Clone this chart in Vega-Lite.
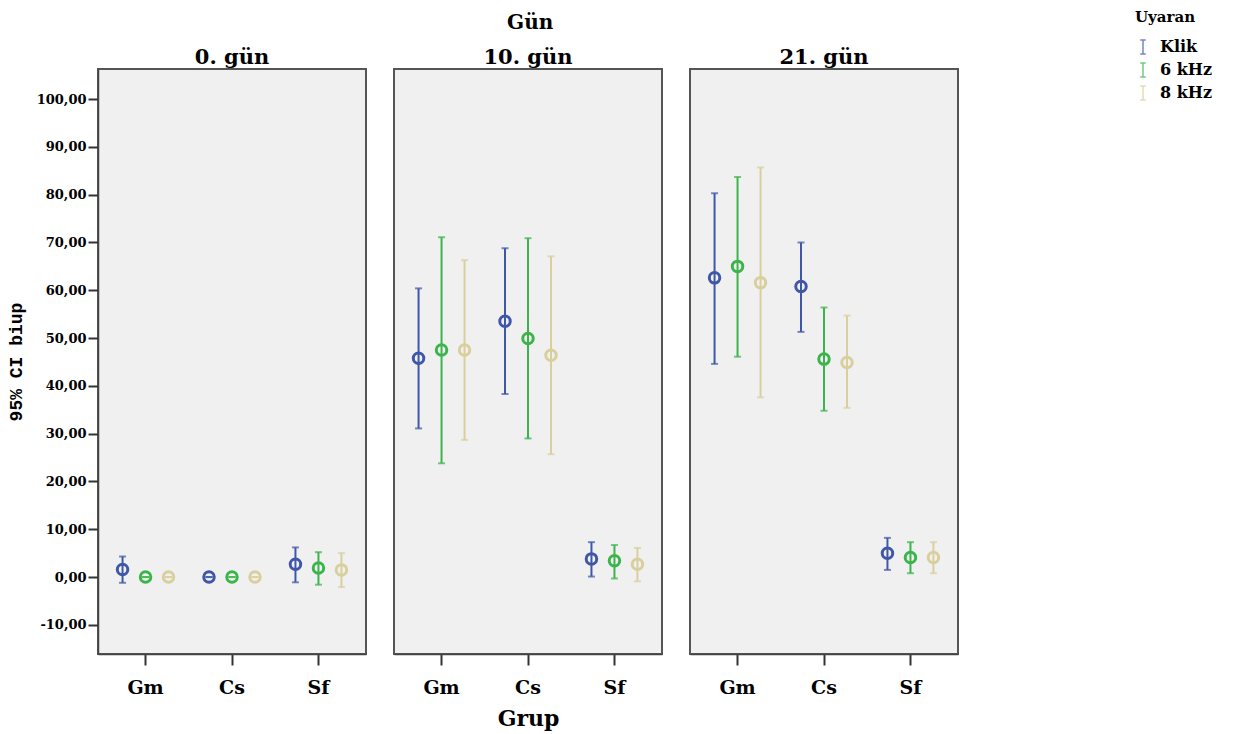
{
  "$schema": "https://vega.github.io/schema/vega-lite/v6.json",
  "background": "white",
  "padding": {"left": 6, "top": 10, "right": 5, "bottom": 5},
  "title": {
    "text": "Gün",
    "anchor": "middle",
    "fontSize": 20,
    "dx": -79,
    "offset": -23
  },
  "data": {
    "values": [
      {"gun": "0. gün", "grup": "Gm", "uyaran": "Klik", "mean": 1.6, "lo": -1.2, "hi": 4.3},
      {"gun": "0. gün", "grup": "Gm", "uyaran": "6 kHz", "mean": 0, "lo": 0, "hi": 0},
      {"gun": "0. gün", "grup": "Gm", "uyaran": "8 kHz", "mean": 0, "lo": 0, "hi": 0},
      {"gun": "0. gün", "grup": "Cs", "uyaran": "Klik", "mean": 0, "lo": 0, "hi": 0},
      {"gun": "0. gün", "grup": "Cs", "uyaran": "6 kHz", "mean": 0, "lo": 0, "hi": 0},
      {"gun": "0. gün", "grup": "Cs", "uyaran": "8 kHz", "mean": 0, "lo": 0, "hi": 0},
      {"gun": "0. gün", "grup": "Sf", "uyaran": "Klik", "mean": 2.7, "lo": -1.1, "hi": 6.2},
      {"gun": "0. gün", "grup": "Sf", "uyaran": "6 kHz", "mean": 1.9, "lo": -1.6, "hi": 5.2},
      {"gun": "0. gün", "grup": "Sf", "uyaran": "8 kHz", "mean": 1.5, "lo": -2.1, "hi": 5.0},
      {"gun": "10. gün", "grup": "Gm", "uyaran": "Klik", "mean": 45.8, "lo": 31.1, "hi": 60.4},
      {"gun": "10. gün", "grup": "Gm", "uyaran": "6 kHz", "mean": 47.5, "lo": 23.8, "hi": 71.1},
      {"gun": "10. gün", "grup": "Gm", "uyaran": "8 kHz", "mean": 47.5, "lo": 28.7, "hi": 66.3},
      {"gun": "10. gün", "grup": "Cs", "uyaran": "Klik", "mean": 53.5, "lo": 38.3, "hi": 68.8},
      {"gun": "10. gün", "grup": "Cs", "uyaran": "6 kHz", "mean": 49.9, "lo": 29.0, "hi": 70.9},
      {"gun": "10. gün", "grup": "Cs", "uyaran": "8 kHz", "mean": 46.4, "lo": 25.7, "hi": 67.1},
      {"gun": "10. gün", "grup": "Sf", "uyaran": "Klik", "mean": 3.8, "lo": 0.1, "hi": 7.3},
      {"gun": "10. gün", "grup": "Sf", "uyaran": "6 kHz", "mean": 3.4, "lo": -0.3, "hi": 6.7},
      {"gun": "10. gün", "grup": "Sf", "uyaran": "8 kHz", "mean": 2.7, "lo": -0.9, "hi": 6.1},
      {"gun": "21. gün", "grup": "Gm", "uyaran": "Klik", "mean": 62.6, "lo": 44.6, "hi": 80.3},
      {"gun": "21. gün", "grup": "Gm", "uyaran": "6 kHz", "mean": 65.0, "lo": 46.1, "hi": 83.7},
      {"gun": "21. gün", "grup": "Gm", "uyaran": "8 kHz", "mean": 61.6, "lo": 37.6, "hi": 85.7},
      {"gun": "21. gün", "grup": "Cs", "uyaran": "Klik", "mean": 60.8, "lo": 51.3, "hi": 70.0},
      {"gun": "21. gün", "grup": "Cs", "uyaran": "6 kHz", "mean": 45.6, "lo": 34.8, "hi": 56.4},
      {"gun": "21. gün", "grup": "Cs", "uyaran": "8 kHz", "mean": 44.9, "lo": 35.4, "hi": 54.7},
      {"gun": "21. gün", "grup": "Sf", "uyaran": "Klik", "mean": 5.0, "lo": 1.5, "hi": 8.2},
      {"gun": "21. gün", "grup": "Sf", "uyaran": "6 kHz", "mean": 4.1, "lo": 0.8, "hi": 7.3},
      {"gun": "21. gün", "grup": "Sf", "uyaran": "8 kHz", "mean": 4.1, "lo": 0.8, "hi": 7.3}
    ]
  },
  "spacing": 26,
  "resolve": {"scale": {"y": "shared", "color": "shared"}, "legend": {"color": "shared"}},
  "hconcat": [
    {
      "width": 268,
      "height": 585,
      "title": {"text": "0. gün", "fontSize": 21, "offset": 1},
      "transform": [{"filter": "datum.gun === '0. gün'"}],
      "encoding": {
        "x": {"field": "grup", "type": "nominal", "sort": ["Gm", "Cs", "Sf"], "scale": {"paddingInner": 0, "paddingOuter": 0.05}, "axis": {"title": null}},
        "xOffset": {"field": "uyaran", "type": "nominal", "sort": ["Klik", "6 kHz", "8 kHz"], "scale": {"paddingInner": 0, "paddingOuter": 0.38}},
        "color": {
          "field": "uyaran", "type": "nominal",
          "scale": {"domain": ["Klik", "6 kHz", "8 kHz"], "range": ["#3f57a8", "#3bb44b", "#d9cf9c"]},
          "legend": {"title": "Uyaran", "orient": "none", "legendX": 1037, "legendY": -59}
        }
      },
      "layer": [
        {
          "mark": {"type": "rule", "strokeWidth": 2},
          "encoding": {
            "y": {"field": "lo", "type": "quantitative", "scale": {"domain": [-16.1, 106.3], "nice": false, "zero": false}, "axis": {"title": "95% CI biup", "values": [-10, 0, 10, 20, 30, 40, 50, 60, 70, 80, 90, 100]}},
            "y2": {"field": "hi"}
          }
        },
        {
          "mark": {"type": "tick", "size": 7, "thickness": 2},
          "encoding": {"y": {"field": "lo", "type": "quantitative", "axis": {"title": "95% CI biup", "values": [-10, 0, 10, 20, 30, 40, 50, 60, 70, 80, 90, 100]}}}
        },
        {
          "mark": {"type": "tick", "size": 7, "thickness": 2},
          "encoding": {"y": {"field": "hi", "type": "quantitative", "axis": {"title": "95% CI biup", "values": [-10, 0, 10, 20, 30, 40, 50, 60, 70, 80, 90, 100]}}}
        },
        {
          "mark": {"type": "point", "filled": false, "size": 110, "strokeWidth": 3, "opacity": 1},
          "encoding": {"y": {"field": "mean", "type": "quantitative", "axis": {"title": "95% CI biup", "values": [-10, 0, 10, 20, 30, 40, 50, 60, 70, 80, 90, 100]}}}
        }
      ]
    },
    {
      "width": 268,
      "height": 585,
      "title": {"text": "10. gün", "fontSize": 21, "offset": 1},
      "transform": [{"filter": "datum.gun === '10. gün'"}],
      "encoding": {
        "x": {"field": "grup", "type": "nominal", "sort": ["Gm", "Cs", "Sf"], "scale": {"paddingInner": 0, "paddingOuter": 0.05}, "axis": {"title": "Grup"}},
        "xOffset": {"field": "uyaran", "type": "nominal", "sort": ["Klik", "6 kHz", "8 kHz"], "scale": {"paddingInner": 0, "paddingOuter": 0.38}},
        "color": {"field": "uyaran", "type": "nominal", "scale": {"domain": ["Klik", "6 kHz", "8 kHz"], "range": ["#3f57a8", "#3bb44b", "#d9cf9c"]}}
      },
      "layer": [
        {
          "mark": {"type": "rule", "strokeWidth": 2},
          "encoding": {
            "y": {"field": "lo", "type": "quantitative", "scale": {"domain": [-16.1, 106.3], "nice": false, "zero": false}, "axis": null},
            "y2": {"field": "hi"}
          }
        },
        {"mark": {"type": "tick", "size": 7, "thickness": 2}, "encoding": {"y": {"field": "lo", "type": "quantitative", "axis": null}}},
        {"mark": {"type": "tick", "size": 7, "thickness": 2}, "encoding": {"y": {"field": "hi", "type": "quantitative", "axis": null}}},
        {"mark": {"type": "point", "filled": false, "size": 110, "strokeWidth": 3, "opacity": 1}, "encoding": {"y": {"field": "mean", "type": "quantitative", "axis": null}}}
      ]
    },
    {
      "width": 268,
      "height": 585,
      "title": {"text": "21. gün", "fontSize": 21, "offset": 1},
      "transform": [{"filter": "datum.gun === '21. gün'"}],
      "encoding": {
        "x": {"field": "grup", "type": "nominal", "sort": ["Gm", "Cs", "Sf"], "scale": {"paddingInner": 0, "paddingOuter": 0.05}, "axis": {"title": null}},
        "xOffset": {"field": "uyaran", "type": "nominal", "sort": ["Klik", "6 kHz", "8 kHz"], "scale": {"paddingInner": 0, "paddingOuter": 0.38}},
        "color": {"field": "uyaran", "type": "nominal", "scale": {"domain": ["Klik", "6 kHz", "8 kHz"], "range": ["#3f57a8", "#3bb44b", "#d9cf9c"]}}
      },
      "layer": [
        {
          "mark": {"type": "rule", "strokeWidth": 2},
          "encoding": {
            "y": {"field": "lo", "type": "quantitative", "scale": {"domain": [-16.1, 106.3], "nice": false, "zero": false}, "axis": null},
            "y2": {"field": "hi"}
          }
        },
        {"mark": {"type": "tick", "size": 7, "thickness": 2}, "encoding": {"y": {"field": "lo", "type": "quantitative", "axis": null}}},
        {"mark": {"type": "tick", "size": 7, "thickness": 2}, "encoding": {"y": {"field": "hi", "type": "quantitative", "axis": null}}},
        {"mark": {"type": "point", "filled": false, "size": 110, "strokeWidth": 3, "opacity": 1}, "encoding": {"y": {"field": "mean", "type": "quantitative", "axis": null}}}
      ]
    }
  ],
  "config": {
    "view": {"fill": "#f0f0f0", "stroke": "#555555", "strokeWidth": 2},
    "title": {"font": "DejaVu Serif", "fontSize": 19, "fontWeight": "bold", "color": "black", "offset": 3},
    "axis": {
      "grid": false,
      "domainColor": "#444444",
      "domainWidth": 1.5,
      "tickColor": "#333333",
      "tickWidth": 2,
      "labelFont": "DejaVu Serif",
      "labelFontWeight": "bold",
      "labelColor": "black",
      "titleFont": "DejaVu Serif",
      "titleFontWeight": "bold",
      "titleColor": "black"
    },
    "axisY": {
      "tickSize": 10,
      "labelFontSize": 13,
      "labelPadding": 2,
      "labelExpr": "(datum.value < 0 ? '-' : '') + replace(format(abs(datum.value), '.2f'), '.', ',')",
      "titleFont": "Liberation Mono",
      "titleFontSize": 18,
      "titlePadding": 11
    },
    "axisX": {
      "tickSize": 11,
      "labelFontSize": 19,
      "labelAngle": 0,
      "labelPadding": 13,
      "titleFontSize": 22,
      "titlePadding": 11
    },
    "legend": {
      "titleFont": "DejaVu Serif",
      "titleFontSize": 15,
      "titleFontWeight": "bold",
      "titleColor": "black",
      "titlePadding": 14,
      "labelFont": "DejaVu Serif",
      "labelFontSize": 16,
      "labelFontWeight": "bold",
      "labelColor": "black",
      "labelOffset": 9,
      "symbolType": "M-0.4,-1L0.4,-1M0,-1L0,1M-0.4,1L0.4,1",
      "symbolSize": 190,
      "symbolStrokeWidth": 1.5,
      "rowPadding": 3
    }
  }
}
